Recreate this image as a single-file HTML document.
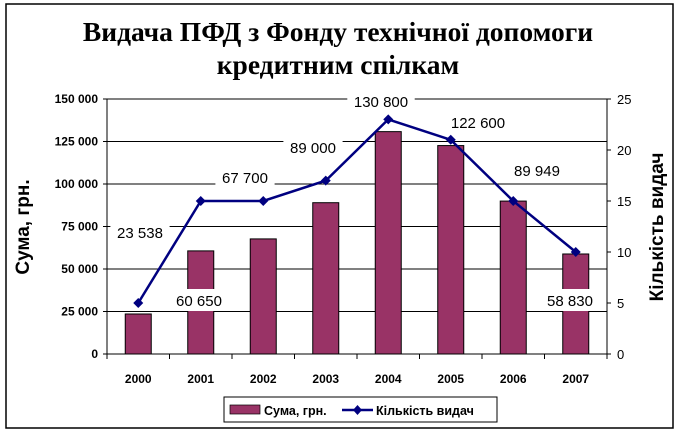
<!DOCTYPE html>
<html><head><meta charset="utf-8"><style>
body{margin:0;background:#fff;width:680px;height:435px;overflow:hidden}
svg{font-family:"Liberation Sans",Arial,sans-serif}
</style></head><body>
<svg id="c" width="680" height="435" xmlns="http://www.w3.org/2000/svg">
<rect x="6" y="4" width="667" height="424" fill="#fff" stroke="#000" stroke-width="1.5"/>
<text x="338" y="41" text-anchor="middle" font-family="Liberation Serif,serif" font-weight="bold" font-size="27.5">Видача ПФД з Фонду технічної допомоги</text>
<text x="338" y="74" text-anchor="middle" font-family="Liberation Serif,serif" font-weight="bold" font-size="27.5">кредитним спілкам</text>
<text transform="translate(29,227) rotate(-90)" text-anchor="middle" font-weight="bold" font-size="19">Сума, грн.</text>
<text transform="translate(663,227) rotate(-90)" text-anchor="middle" font-weight="bold" font-size="19">Кількість видач</text>
<g id="plot"></g>
<rect x="224" y="397" width="273" height="25" fill="#fff" stroke="#000"/>
<rect x="230" y="405" width="30" height="9" fill="#993366" stroke="#000" stroke-width="0.7"/>
<text x="264" y="415" font-size="12.5" font-weight="bold">Сума, грн.</text>
<line x1="342" y1="410" x2="373" y2="410" stroke="#000080" stroke-width="2.5"/>
<path d="M357.5 405 L362 410 L357.5 415 L353 410Z" fill="#000080"/>
<text x="376" y="415" font-size="12.5" font-weight="bold">Кількість видач</text>
</svg>
<script>
const categories=["2000","2001","2002","2003","2004","2005","2006","2007"];
const sums=[23538,60650,67700,89000,130800,122600,89949,58830];
const counts=[5,15,15,17,23,21,15,10];
const sumLabels=["23 538","60 650","67 700","89 000","130 800","122 600","89 949","58 830"];
const leftTicks=[0,25000,50000,75000,100000,125000,150000];
const leftTickLabels=["0","25 000","50 000","75 000","100 000","125 000","150 000"];
const rightTicks=[0,5,10,15,20,25];
const labelPos=[[140,232],[199,300],[245,177],[313,147],[381,101],[478,122],[537,170],[570,300]];
const NS="http://www.w3.org/2000/svg";
const X0=107,X1=607,Y0=354,Y1=99;
const bw=(X1-X0)/categories.length;
const yL=v=>Y0-(v/150000)*(Y0-Y1);
const yR=v=>Y0-(v/25)*(Y0-Y1);
const xc=i=>X0+bw*(i+0.5);
const g=document.getElementById('plot');
function mk(t,a){const e=document.createElementNS(NS,t);for(const k in a)e.setAttribute(k,a[k]);g.appendChild(e);return e;}
leftTicks.forEach((v,i)=>{
 if(v>0){const e=mk('line',{x1:X0,x2:X1,y1:yL(v),y2:yL(v),stroke:'#000','stroke-width':1});
 
 }
 const tk=mk('line',{x1:X0-4,x2:X0,y1:yL(v),y2:yL(v),stroke:'#000'});
 
 
 const t=mk('text',{x:X0-9,y:yL(v)+4,'text-anchor':'end','font-size':12,'font-weight':'bold'});
 t.textContent=leftTickLabels[i];
 
 
});
rightTicks.forEach(v=>{
 const tk=mk('line',{x1:X1,x2:X1+4,y1:yR(v),y2:yR(v),stroke:'#000'});
 
 
 const t=mk('text',{x:X1+10,y:yR(v)+5,'font-size':13});
 t.textContent=v;
 
 
});
sums.forEach((v,i)=>{
 const r=mk('rect',{x:xc(i)-13,y:yL(v),width:26,height:Y0-yL(v),fill:'#993366',stroke:'#000','stroke-width':1});
 
 
});
const axL=mk('line',{x1:X0,x2:X0,y1:Y1,y2:Y0,stroke:'#000'});


const axR=mk('line',{x1:X1,x2:X1,y1:Y1,y2:Y0,stroke:'#000'});


const axB=mk('line',{x1:X0,x2:X1,y1:Y0,y2:Y0,stroke:'#000'});


categories.forEach((c,i)=>{
 const tk=mk('line',{x1:X0+bw*i,x2:X0+bw*i,y1:Y0,y2:Y0+5,stroke:'#000'});
 
 
 const t=mk('text',{x:xc(i),y:Y0+29,'text-anchor':'middle','font-size':12,'font-weight':'bold'});
 t.textContent=c;
 
 
});
const tk2=mk('line',{x1:X1,x2:X1,y1:Y0,y2:Y0+5,stroke:'#000'});


const pl=mk('polyline',{points:counts.map((v,i)=>xc(i)+','+yR(v)).join(' '),fill:'none',stroke:'#000080','stroke-width':2.5});


counts.forEach((v,i)=>{
 const x=xc(i),y=yR(v);
 const p=mk('path',{d:`M${x} ${y-5}L${x+5} ${y}L${x} ${y+5}L${x-5} ${y}Z`,fill:'#000080'});
 
 
});
sumLabels.forEach((s,i)=>{
 const [x,y]=labelPos[i];
 const w=s.length*8.2+10;
 const bg=mk('rect',{x:x-w/2,y:y-11,width:w,height:22,fill:'#fff'});
 
 
 const t=mk('text',{x:x,y:y+6,'text-anchor':'middle','font-size':15});
 t.textContent=s;
 
 
});
</script>
</body></html>
